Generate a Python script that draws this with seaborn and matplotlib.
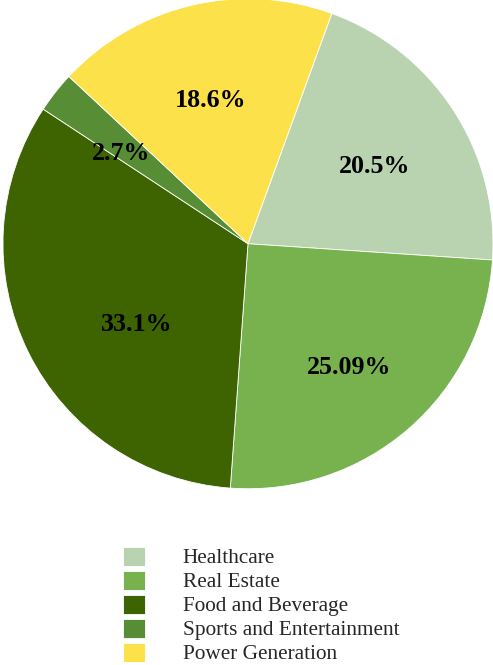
import matplotlib
matplotlib.use("Agg")
import matplotlib.pyplot as plt
import seaborn as sns
import numpy as np

# data
sectors = ["Healthcare", "Real Estate", "Food and Beverage",
           "Sports and Entertainment", "Power Generation"]
shares = [20.5, 25.09, 33.1, 2.7, 18.6]
pct_labels = ["20.5%", "25.09%", "33.1%", "2.7%", "18.6%"]
sector_colors = ["#b9d3b0", "#77b24e", "#3d6401", "#568d35", "#fde14a"]

# label placement: radius fraction and angle nudge (deg) from each wedge's middle
label_radius = [0.605, 0.652, 0.561, 0.633, 0.606]
label_nudge = [-1.7, -1.6, 9.8, 2.8, 1.2]

sns.set_theme(style="white")
plt.rcParams["font.family"] = "serif"
plt.rcParams["font.serif"] = ["Liberation Serif", "DejaVu Serif"]
palette = sns.color_palette(sector_colors)

fig = plt.figure(figsize=(4.93, 6.65), dpi=100)
ax = fig.add_axes([0.006, 0.265, 0.994, 0.737])

wedges, _ = ax.pie(shares, colors=palette, startangle=70, counterclock=False,
                   wedgeprops=dict(edgecolor="white", linewidth=0.6))

for w, txt, r, d in zip(wedges, pct_labels, label_radius, label_nudge):
    mid = np.deg2rad((w.theta1 + w.theta2) / 2 + d)
    ax.text(r * np.cos(mid), r * np.sin(mid), txt, ha="center", va="center",
            fontsize=18.7, fontweight="bold", color="black")

ax.set_xlim(-1, 1)
ax.set_ylim(-1, 1)
ax.set_aspect("equal")
ax.axis("off")

fig.legend(wedges, sectors, loc="upper left", bbox_to_anchor=(0.249, 0.178),
           frameon=False, fontsize=15.3, handlelength=1.03, handleheight=1.0,
           handletextpad=1.8, labelspacing=0.105, borderpad=0, borderaxespad=0)

fig.savefig("out.png", dpi=100)
